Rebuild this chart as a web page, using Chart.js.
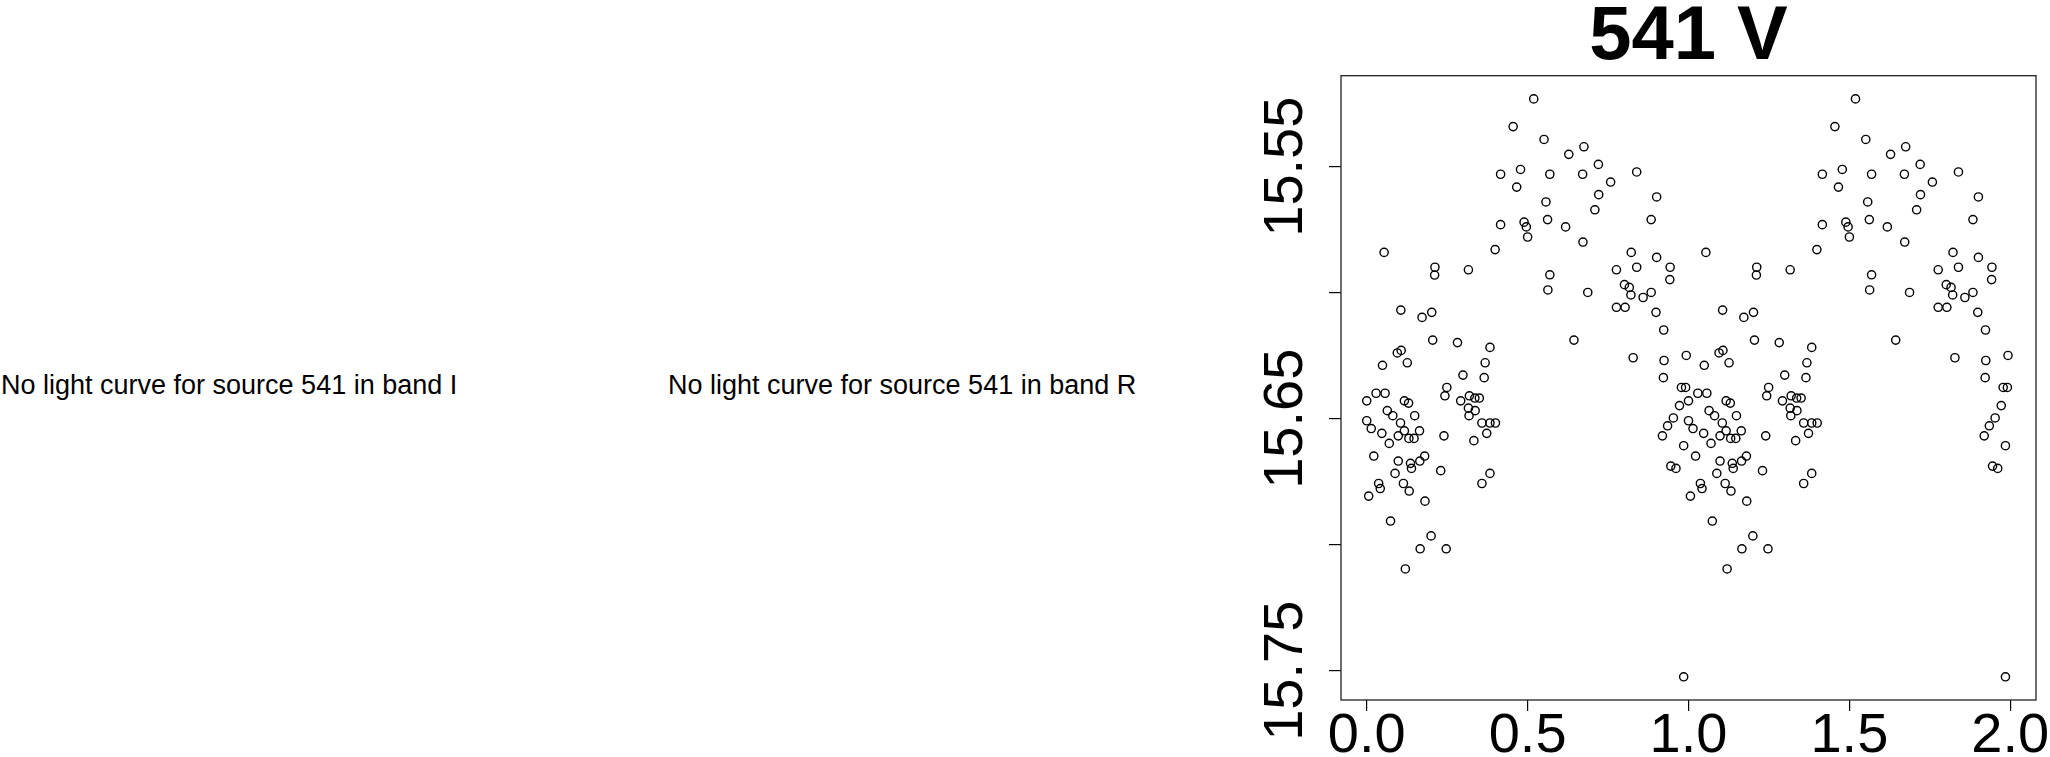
<!DOCTYPE html>
<html>
<head>
<meta charset="utf-8">
<script src="https://cdn.jsdelivr.net/npm/chart.js@4.4.1/dist/chart.umd.min.js"></script>
<style>
  html, body { margin: 0; padding: 0; background: #fff; }
  #page { position: relative; width: 2050px; height: 757px; overflow: hidden; background: #fff; }
  .nolc { position: absolute; top: 372px; font-family: "Liberation Sans", Arial, sans-serif; font-size: 27px; line-height: 27px; color: #000; white-space: nowrap; }
  #lc { position: absolute; left: 0; top: 0; }
</style>
</head>
<body>
<div id="page">
  <div class="nolc" style="left: 1px;">No light curve for source 541 in band I</div>
  <div class="nolc" style="left: 668px;">No light curve for source 541 in band R</div>
  <canvas id="lc" width="2050" height="757"></canvas>
</div>
<script>
// Band V light curve of source 541, folded on phase 0..1 (plotted twice, 0..2)
const phase = [
    0.519, 0.455, 0.416, 0.478, 0.466, 0.416, 0.489, 0.496, 0.500, 0.399,
    0.054, 0.212, 0.211, 0.316, 0.106, 0.172, 0.202, 0.205, 0.282, 0.383,
    0.095, 0.107, 0.126, 0.049, 0.368, 0.299, 0.365, 0.249,
    0.029, 0.057, 0.000, 0.117, 0.130, 0.243, 0.292, 0.319, 0.336, 0.350,
    0.316, 0.337, 0.318, 0.064, 0.081, 0.149, 0.000, 0.014, 0.105, 0.117,
    0.047, 0.098, 0.070, 0.131, 0.147, 0.164, 0.240, 0.358, 0.383, 0.400,
    0.373, 0.333, 0.022, 0.098, 0.136, 0.139, 0.165, 0.180, 0.088, 0.230,
    0.383, 0.358, 0.037, 0.042, 0.114, 0.132, 0.006, 0.181, 0.074, 0.200,
    0.166, 0.247, 0.120,
    0.551, 0.628, 0.675, 0.720, 0.569, 0.671, 0.758, 0.839, 0.721, 0.709,
    0.901, 0.557, 0.562, 0.618, 0.884, 0.672, 0.822, 0.901, 0.776, 0.839,
    0.943, 0.569, 0.563, 0.687, 0.801, 0.816, 0.821, 0.859, 0.884, 0.942,
    0.776, 0.803, 0.899, 0.923, 0.644, 0.828, 0.924, 0.993, 0.922,
    0.978, 0.991, 0.972, 0.953, 0.935, 0.919, 0.985, 0.945, 0.961, 0.985
];
const mag = [
    15.5231, 15.5341, 15.5530, 15.5511, 15.5581, 15.5730, 15.5720, 15.5739, 15.5779, 15.5829,
    15.5840, 15.5899, 15.5930, 15.5909, 15.6069, 15.6098, 15.6078, 15.6188, 15.6198, 15.6217,
    15.6239, 15.6229, 15.6278, 15.6288, 15.6278, 15.6327, 15.6337, 15.6376,
    15.6399, 15.6399, 15.6429, 15.6429, 15.6438, 15.6409, 15.6429, 15.6409, 15.6418, 15.6418,
    15.6458, 15.6468, 15.6488, 15.6468, 15.6488, 15.6488, 15.6508, 15.6539, 15.6517, 15.6548,
    15.6558, 15.6568, 15.6598, 15.6578, 15.6578, 15.6548, 15.6568, 15.6517, 15.6517, 15.6517,
    15.6558, 15.6587, 15.6648, 15.6668, 15.6677, 15.6697, 15.6668, 15.6648, 15.6717, 15.6706,
    15.6717, 15.6757, 15.6757, 15.6777, 15.6757, 15.6787, 15.6807, 15.6827, 15.6906, 15.6965,
    15.7016, 15.7016, 15.7096,
    15.5392, 15.5451, 15.5421, 15.5491, 15.5530, 15.5530, 15.5561, 15.5521, 15.5611, 15.5671,
    15.5620, 15.5640, 15.5710, 15.5739, 15.5710, 15.5799, 15.5840, 15.5860, 15.5909, 15.5899,
    15.5899, 15.5929, 15.5989, 15.5999, 15.5968, 15.5979, 15.6009, 15.6019, 15.5999, 15.5948,
    15.6058, 15.6058, 15.6078, 15.6148, 15.6188, 15.6258, 15.6269, 15.6249, 15.6337,
    15.6376, 15.6376, 15.6448, 15.6497, 15.6528, 15.6568, 15.6607, 15.6688, 15.6697, 15.7524
];

// Axis ticks
const xTicks = [0.0, 0.5, 1.0, 1.5, 2.0];
const yTicks = [15.55, 15.60, 15.65, 15.70, 15.75];
const yLabels = [15.55, 15.65, 15.75];
const title = '541 V';

// two cycles: phase and phase + 1
const points = phase.map((p, i) => ({ x: p, y: mag[i] }))
    .concat(phase.map((p, i) => ({ x: p + 1, y: mag[i] })));

const font = '"Liberation Sans", Arial, Helvetica, sans-serif';

// Frame, rotated y labels and title
const decorPlugin = {
    id: 'decor',
    afterDraw(chart) {
        const { ctx, chartArea: a, scales } = chart;
        ctx.save();
        ctx.strokeStyle = '#222';
        ctx.lineWidth = 1.3;
        ctx.strokeRect(a.left, a.top, a.right - a.left, a.bottom - a.top);

        ctx.fillStyle = '#000';
        ctx.font = '56px ' + font;
        ctx.textAlign = 'center';
        ctx.textBaseline = 'alphabetic';
        yLabels.forEach(v => {
            const y = scales.y.getPixelForValue(v);
            ctx.save();
            ctx.translate(a.left - 39, y);
            ctx.rotate(-Math.PI / 2);
            ctx.fillText(v.toFixed(2), 0, 0);
            ctx.restore();
        });

        ctx.font = 'bold 76px ' + font;
        ctx.fillText(title, (a.left + a.right) / 2, 59);
        ctx.restore();
    }
};

const ctx = document.getElementById('lc').getContext('2d');
const lcChart = new Chart(ctx, {
    type: 'scatter',
    data: {
        datasets: [{
            data: points,
            pointStyle: 'circle',
            pointRadius: 4.1,
            borderWidth: 1.4,
            borderColor: '#000',
            backgroundColor: 'rgba(0,0,0,0)',
        }]
    },
    options: {
        responsive: false,
        animation: false,
        devicePixelRatio: 1,
        layout: { padding: { left: 1240, right: 14, top: 75.7, bottom: 0 } },
        plugins: {
            legend: { display: false },
            tooltip: { enabled: false },
        },
        scales: {
            x: {
                type: 'linear',
                min: -0.08,
                max: 2.08,
                afterBuildTicks: s => { s.ticks = xTicks.map(v => ({ value: v })); },
                afterFit: s => { s.height = 57; },
                border: { display: false },
                grid: { drawOnChartArea: false, tickLength: 11, color: '#000', lineWidth: 1.2 },
                ticks: {
                    autoSkip: false,
                    maxRotation: 0,
                    padding: -8,
                    color: '#000',
                    font: { size: 56, family: font },
                    callback: v => v.toFixed(1),
                },
            },
            y: {
                type: 'linear',
                reverse: true,
                min: 15.5139,
                max: 15.7616,
                afterBuildTicks: s => { s.ticks = yTicks.map(v => ({ value: v })); },
                afterFit: s => { s.width = 101; },
                border: { display: false },
                grid: { drawOnChartArea: false, tickLength: 12, color: '#000', lineWidth: 1.2 },
                ticks: { display: false },
            },
        },
    },
    plugins: [decorPlugin],
});
</script>
</body>
</html>
